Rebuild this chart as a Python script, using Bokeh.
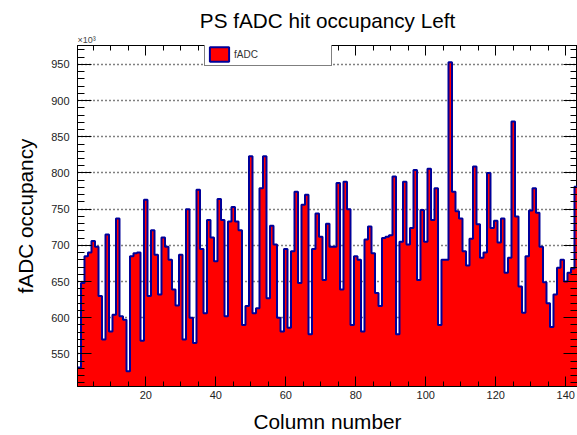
import numpy as np
from bokeh.plotting import figure
from bokeh.models import Range1d, LinearAxis, Legend, LegendItem, Title, SingleIntervalTicker
from bokeh.embed import file_html
from bokeh.resources import INLINE

title_text = "PS fADC hit occupancy Left"
x_label = "Column number"
y_label = "fADC occupancy"
series_name = "fADC"
y_multiplier = "\u00d710\u00b3"

columns = list(range(1, 146))
# fADC occupancy per column, in units of 10^3
occupancy_k = [
    531, 648, 685, 690, 706, 698, 630, 570, 715, 581,
    604, 737, 602, 597, 526, 685, 689, 690, 568, 763,
    630, 721, 687, 632, 711, 698, 680, 639, 617, 687,
    570, 750, 600, 565, 777, 695, 606, 735, 711, 678,
    764, 735, 602, 733, 753, 733, 721, 590, 616, 823,
    606, 613, 779, 823, 627, 727, 701, 600, 581, 695,
    586, 692, 774, 648, 756, 770, 577, 695, 744, 712,
    652, 730, 698, 698, 786, 639, 788, 750, 590, 685,
    680, 581, 708, 726, 689, 634, 616, 710, 712, 714,
    795, 577, 705, 788, 701, 724, 804, 652, 749, 705,
    806, 735, 779, 590, 680, 680, 953, 774, 747, 737,
    692, 672, 709, 809, 729, 683, 690, 800, 724, 734,
    704, 737, 662, 683, 871, 740, 643, 607, 685, 748,
    779, 745, 698, 649, 620, 587, 632, 669, 680, 650,
    662, 668, 781, 770, 760,
]

x_tick_step = 20
y_tick_step = 50
x_view = (0.5, 143.36)
y_view = (504.9, 976.2)

FONT = "Liberation Sans"

cols = np.array(columns, dtype=float)
vals = np.array(occupancy_k, dtype=float)
left = cols - 0.5
right = cols + 0.5
step_x = np.append(left, right[-1])
step_y = np.append(vals, vals[-1])

p = figure(width=577, height=435, output_backend="svg", toolbar_location=None,
           x_range=Range1d(*x_view), y_range=Range1d(*y_view),
           min_border_left=77, min_border_right=0, min_border_top=45, min_border_bottom=48,
           background_fill_color="white", border_fill_color="white")

# histogram fill as one stepped area (no seams between bins)
p.varea_step(x=step_x, y1=np.zeros_like(step_y), y2=step_y, step_mode="after",
             fill_color="#ff0000")
p.step(x=step_x, y=step_y, mode="after", line_color="#000099", line_width=2)

# legend proxy renderer (one bin, lying below the visible range)
proxy = p.quad(left=left[:1], right=right[:1], top=[0], bottom=[0], fill_color="#ff0000",
               line_color="#000099", line_width=2)

p.title.text = title_text
p.title.text_font = FONT
p.title.text_font_size = "20.7px"
p.title.text_font_style = "normal"
p.title.align = "center"
p.title.text_color = "black"
p.title.standoff = 2

xt = SingleIntervalTicker(interval=x_tick_step, num_minor_ticks=4)
yt = SingleIntervalTicker(interval=y_tick_step, num_minor_ticks=5)

for ax in p.xaxis:
    ax.ticker = xt
    ax.axis_label = x_label
    ax.major_tick_in = 10
    ax.major_tick_out = 0
    ax.minor_tick_in = 5
    ax.minor_tick_out = 0
    ax.major_label_standoff = 4
    ax.axis_label_standoff = 8
    ax.major_label_text_font = FONT
    ax.major_label_text_font_size = "11px"
    ax.major_label_text_color = "#222222"
    ax.axis_label_text_font = FONT
    ax.axis_label_text_font_size = "20.8px"
    ax.axis_label_text_font_style = "normal"
    ax.axis_label_text_color = "black"
    ax.axis_line_color = "black"

for ax in p.yaxis:
    ax.ticker = yt
    ax.axis_label = y_label
    ax.major_tick_in = 14
    ax.major_tick_out = 0
    ax.minor_tick_in = 7
    ax.minor_tick_out = 0
    ax.major_label_standoff = 8
    ax.axis_label_standoff = 11
    ax.major_label_text_font = FONT
    ax.major_label_text_font_size = "11px"
    ax.major_label_text_color = "#222222"
    ax.axis_label_text_font = FONT
    ax.axis_label_text_font_size = "20.8px"
    ax.axis_label_text_font_style = "normal"
    ax.axis_label_text_color = "black"
    ax.axis_line_color = "black"

top_ax = LinearAxis(ticker=xt, major_label_text_font_size="0px", major_label_standoff=0,
                    major_tick_in=10, major_tick_out=0, minor_tick_in=5, minor_tick_out=0,
                    axis_line_color="black")
p.add_layout(top_ax, "above")
right_ax = LinearAxis(ticker=yt, major_label_text_font_size="0px", major_label_standoff=0,
                      major_tick_in=14, major_tick_out=0, minor_tick_in=7, minor_tick_out=0,
                      axis_line_color="black")
p.add_layout(right_ax, "right")

mult = Title(text=y_multiplier, align="left", text_font=FONT, text_font_size="9px",
             text_font_style="normal", text_color="#444444", standoff=1, offset=0)
p.add_layout(mult, "above")

p.xgrid.visible = False
p.ygrid.grid_line_color = "black"
p.ygrid.grid_line_dash = "1 3"
p.ygrid.grid_line_width = 1.5

p.outline_line_color = "black"
p.outline_line_width = 1

legend = Legend(items=[LegendItem(label=series_name, renderers=[proxy])],
                location=(127, 320), padding=2, margin=0, spacing=0,
                glyph_width=24, glyph_height=18, label_height=18, label_width=95,
                label_standoff=3, label_text_font=FONT, label_text_font_size="10px",
                label_text_color="#333333", border_line_color="black", border_line_width=1,
                background_fill_color="white", background_fill_alpha=1)
p.add_layout(legend, "center")

open("out.html", "w").write(file_html(p, INLINE))
